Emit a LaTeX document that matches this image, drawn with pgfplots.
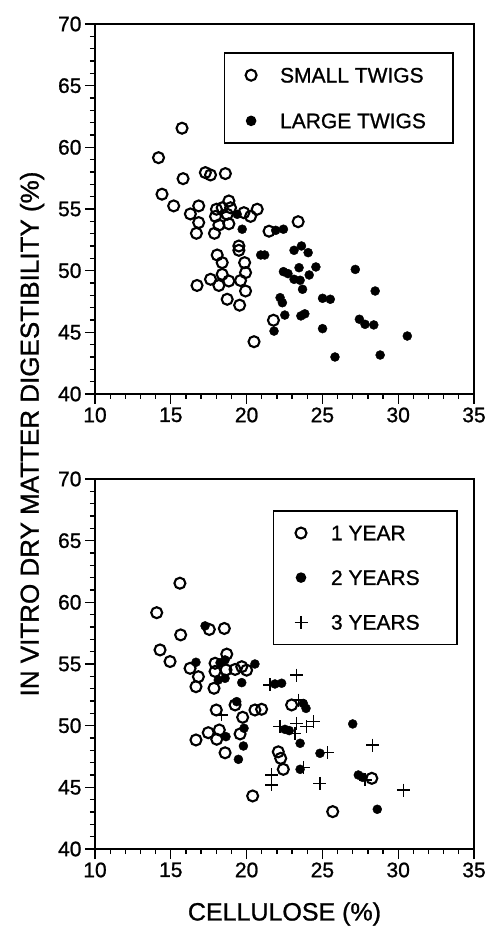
\documentclass[border=0pt]{standalone}
\usepackage{fontspec}
\setmainfont{Liberation Sans}[FakeBold=1]
\usepackage{pgfplots}
\pgfplotsset{compat=1.18}

\pgfplotsset{
  twigax/.style={
    scale only axis, width=379pt, height=370pt,
    xmin=10, xmax=35, ymin=40, ymax=70,
    xtick={10,15,...,35}, ytick={40,45,...,70},
    minor tick num=4, tick pos=left, tick align=outside,
    major tick length=10pt, minor tick length=5pt,
    every tick/.style={black, line width=1.3pt},
    axis line style={line width=2pt},
    /pgf/number format/assume math mode=true,
    tick label style={font=\fontsize{21}{25}\selectfont},
    legend style={draw=black, line width=1.5pt, fill=white,
      inner xsep=21pt, inner ysep=15pt,
      nodes={inner sep=0pt, text depth=0pt},
      row sep=31pt, column sep=23.5pt,
      font=\fontsize{21}{25}\selectfont, cells={anchor=center}},
  },
  ptleg/.style={legend image code/.code={\draw[##1] plot coordinates {(0pt,0pt)};}},
  opn/.style={only marks, mark=o, mark size=5.5pt, mark options={line width=2.1pt, black}, ptleg},
  fil/.style={only marks, mark=*, mark size=4.5pt, mark options={black, fill=black}, ptleg},
  crs/.style={only marks, mark=+, mark size=6.5pt, mark options={line width=1.5pt, black}, ptleg},
}

\begin{document}
\begin{tikzpicture}
\path[use as bounding box] (0pt,0pt) rectangle (492pt,934pt);

% top panel: twig size
\begin{axis}[twigax, at={(95pt,540pt)}, anchor=south west,
  legend style={at={(0.34,0.924)}, anchor=north west}]
\addplot[opn] coordinates {
(15.74,61.55) (14.19,59.16) (15.81,57.46) (17.28,57.95) (17.62,57.76)
(18.60,57.87) (14.42,56.20) (15.19,55.25) (16.29,54.60) (16.84,55.25)
(16.84,53.90) (16.69,53.03) (18.01,54.98) (18.39,55.10) (18.83,55.65)
(18.94,55.10) (17.95,54.40) (18.72,54.57) (18.83,53.80) (18.17,53.70)
(17.88,53.03) (19.82,54.70) (20.26,54.40) (20.70,54.98) (21.48,53.20)
(23.40,53.97) (19.49,52.00) (19.49,51.65) (18.06,51.27) (18.39,50.65)
(19.87,50.65) (19.93,49.84) (18.39,49.70) (17.62,49.30) (16.73,48.80)
(18.17,48.80) (18.83,49.16) (19.60,49.20) (19.93,48.35) (18.72,47.68)
(19.54,47.20) (21.77,45.98) (20.49,44.24)
};
\addlegendentry{\makebox[152pt][l]{SMALL TWIGS}}
\addplot[fil] coordinates {
(19.38,54.57) (19.71,53.36) (21.92,53.27) (22.43,53.36) (20.93,51.27)
(21.19,51.27) (23.13,51.65) (23.62,52.00) (24.06,51.46) (23.46,50.24)
(22.43,49.92) (22.73,49.76) (23.13,49.30) (23.53,49.22) (24.13,49.65)
(24.57,50.30) (23.69,48.49) (22.21,47.81) (22.36,47.40) (22.52,46.40)
(23.58,46.33) (23.84,46.50) (21.81,45.10) (25.01,47.76) (25.52,47.68)
(25.01,45.30) (27.17,50.10) (28.48,48.35) (27.44,46.06) (27.81,45.65)
(28.39,45.60) (30.60,44.70) (25.83,43.00) (28.81,43.16)
};
\addlegendentry{\makebox[152pt][l]{LARGE TWIGS}}
\end{axis}

% bottom panel: twig age
\begin{axis}[twigax, at={(95pt,85pt)}, anchor=south west,
  legend style={at={(0.469,0.916)}, anchor=north west, row sep=30pt}]
\addplot[opn] coordinates {
(15.60,61.55) (14.07,59.16) (15.65,57.36) (17.54,57.80) (18.53,57.88)
(14.29,56.14) (14.95,55.20) (16.27,54.65) (16.82,53.97) (16.66,53.16)
(17.85,53.03) (17.92,55.06) (18.69,55.80) (17.92,54.40) (18.64,54.52)
(19.24,54.56) (19.68,54.78) (20.00,54.50) (22.97,51.68) (18.00,51.27)
(19.24,51.68) (20.55,51.27) (20.99,51.33) (19.74,50.68) (19.57,49.33)
(18.58,47.80) (18.20,49.65) (18.03,48.90) (17.47,49.43) (16.66,48.84)
(22.09,47.88) (22.25,47.35) (22.42,46.46) (28.26,45.73) (25.68,43.03)
(20.40,44.30)
};
\addlegendentry{\makebox[105pt][l]{1 YEAR}}
\addplot[fil] coordinates {
(17.26,58.09) (16.66,55.14) (18.25,55.10) (18.58,55.33) (18.13,53.70)
(18.58,53.84) (20.55,55.00) (19.68,53.49) (21.87,53.38) (22.31,53.44)
(23.74,51.80) (23.92,51.40) (19.35,51.95) (19.83,49.79) (19.79,48.35)
(19.46,47.27) (18.64,49.11) (22.53,49.70) (22.81,49.60) (23.53,48.57)
(27.00,50.14) (24.84,47.76) (23.53,46.46) (27.37,46.00) (27.66,45.81)
(28.62,43.22)
};
\addlegendentry{\makebox[105pt][l]{2 YEARS}}
\addplot[crs] coordinates {
(21.54,53.30) (23.30,54.10) (23.41,52.08) (18.33,50.87) (22.20,49.92)
(23.30,50.19) (23.19,49.38) (23.96,49.92) (24.40,50.32) (25.32,47.81)
(28.32,48.43) (21.65,46.00) (21.65,45.19) (23.75,46.62) (24.84,45.33)
(27.81,45.60) (30.34,44.78)
};
\addlegendentry{\makebox[105pt][l]{3 YEARS}}
\end{axis}

\node[rotate=90, font=\fontsize{26}{30}\selectfont] at (32pt,500pt)
  {IN VITRO DRY MATTER DIGESTIBILITY (\%)};
\node[font=\fontsize{25}{30}\selectfont] at (284.5pt,20pt) {CELLULOSE (\%)};
\end{tikzpicture}
\end{document}
